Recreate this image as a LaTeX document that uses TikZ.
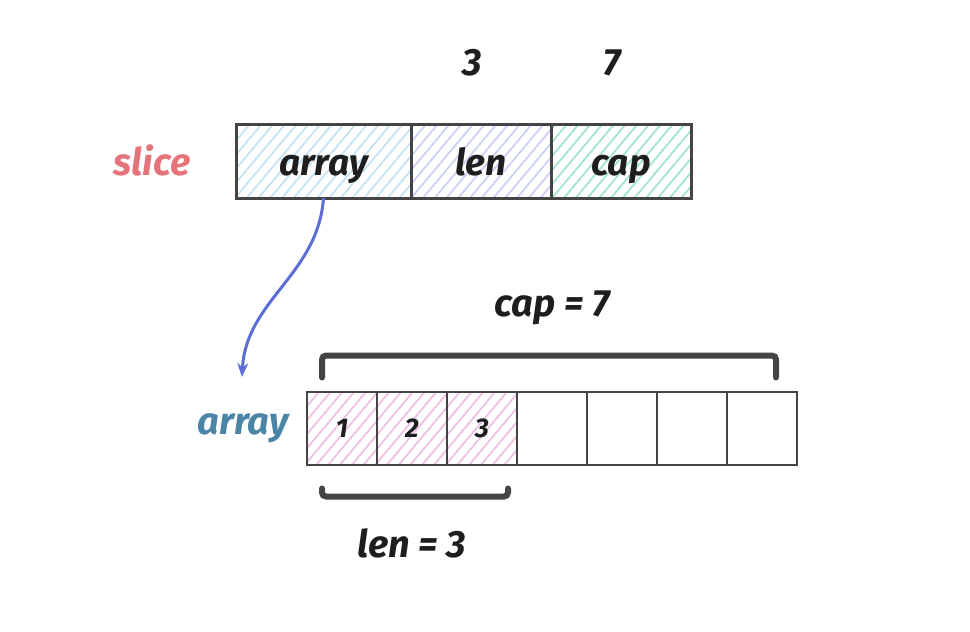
\documentclass[tikz,border=0pt]{standalone}
\usepackage{fontspec}
\setmainfont{Fira Sans}
\usetikzlibrary{calc,positioning,arrows.meta,patterns.meta}
\newcommand{\inkcolor}{ink}
\newcommand{\thickness}{3pt}
\definecolor{ink}{HTML}{444444}
\definecolor{textink}{HTML}{1E1E1E}
\definecolor{slicered}{HTML}{E5737A}
\definecolor{arrayblue}{HTML}{4A84A6}
\definecolor{pointerblue}{HTML}{5C6DD6}
\definecolor{hatcharray}{HTML}{C6E3F4}
\definecolor{hatchlen}{HTML}{CDD1F5}
\definecolor{hatchcap}{HTML}{A3E3D4}
\definecolor{hatchcell}{HTML}{EFC0E4}
\tikzset{
  hatched/.style={pattern={Lines[angle=50,distance=9pt,line width=1.8pt]}, pattern color=#1},
  field/.style={draw=\inkcolor, line width=\thickness, minimum height=74pt, inner sep=0pt, outer sep=0pt,
    text height=30pt, text depth=2pt,
    anchor=west, text=textink, font=\bfseries\itshape\fontsize{37}{40}\selectfont},
  cell/.style={draw=\inkcolor, line width=2pt, minimum width=70pt, minimum height=73pt, inner sep=0pt, outer sep=0pt,
    anchor=west, text=textink, font=\bfseries\itshape\fontsize{27}{30}\selectfont},
  tag/.style={text=textink, font=\bfseries\itshape\fontsize{38}{42}\selectfont},
  brace/.style={draw=\inkcolor, line width=6pt, rounded corners=4pt, line cap=round}
}
\begin{document}
\begin{tikzpicture}[x=1pt,y=-1pt]
\useasboundingbox[fill=white] (0,0) rectangle (970,632);
% slice header
\node[field, minimum width=175pt, hatched=hatcharray] (arr) at (236,161) {array};
\node[field, minimum width=140pt, hatched=hatchlen] (len) at (arr.east) {len};
\node[field, minimum width=140pt, hatched=hatchcap] (cap) at (len.east) {cap};
\node[tag, text=slicered] (slice) at (152,160) {slice};
\node[tag] (lenval) at (472,63) {3};
\node[tag] (capval) at (612,63) {7};
% backing array
\node[cell, hatched=hatchcell] (c1) at (307,428) {1};
\node[cell, hatched=hatchcell] (c2) at (c1.east) {2};
\node[cell, hatched=hatchcell] (c3) at (c2.east) {3};
\node[cell] (c4) at (c3.east) {};
\node[cell] (c5) at (c4.east) {};
\node[cell] (c6) at (c5.east) {};
\node[cell] (c7) at (c6.east) {};
\node[tag, text=arrayblue] (arrlabel) at (243,428) {array};
% pointer
\coordinate (target) at (242,377);
\draw[pointerblue, line width=3pt, -{Stealth[length=14pt,width=11pt]}]
  (arr.south) .. controls (318,275) and (246,300) .. (target);
% cap brace
\draw[brace] ($(c1.north west)+(15,-14)$) -- ($(c1.north west)+(15,-36)$) -- ($(c7.north east)+(-21,-36)$) -- ($(c7.north east)+(-21,-14)$);
\node[tag] (capsize) at (552,308) {cap = 7};
% len brace
\draw[brace] ($(c1.south west)+(15,24)$) -- ($(c1.south west)+(15,32)$) -- ($(c3.south east)+(-9,32)$) -- ($(c3.south east)+(-9,24)$);
\node[tag] (lensize) at (412,543) {len = 3};
\end{tikzpicture}
\end{document}
